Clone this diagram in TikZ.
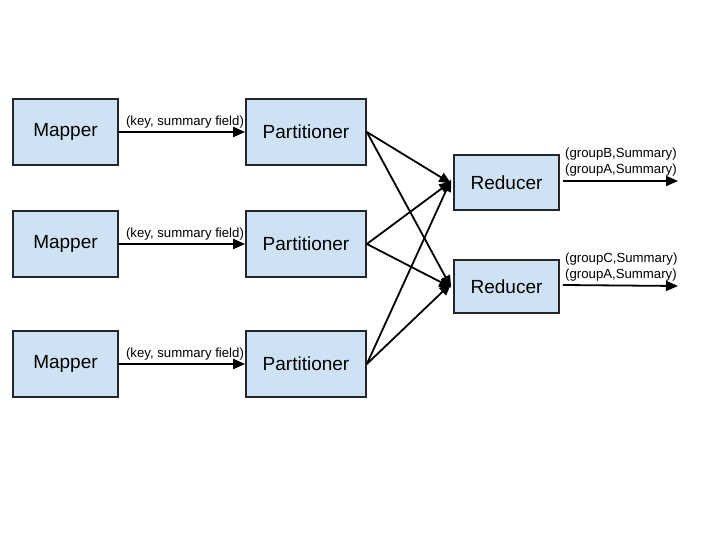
\documentclass[tikz,border=0pt]{standalone}
\usepackage{fontspec}
\setmainfont{Liberation Sans}
\usetikzlibrary{arrows.meta}
\definecolor{boxfill}{HTML}{CFE2F3}
\begin{document}
\begin{tikzpicture}[x=1pt,y=-1pt,
  box/.style={draw=black!85,line width=1.7pt,fill=boxfill,inner sep=0pt,font=\fontsize{19}{22}\selectfont},
  conn/.style={line width=1.8pt,-{Triangle[length=12pt,width=10pt]}},
  lbl/.style={font=\fontsize{13.2}{16}\selectfont,inner sep=0pt,align=left}]
\useasboundingbox (0,0) rectangle (720,540);
\foreach \n/\y in {1/132,2/244,3/364}{
  \node[box,minimum width=105pt,minimum height=66pt] (m\n) at (65.5,\y) {Mapper};
  \node[box,minimum width=120pt,minimum height=66pt] (p\n) at (306,\y) {Partitioner};
  \draw[conn] (m\n.east) -- node[lbl,above=2.5pt,pos=0.5,xshift=3pt]{(key, summary field)} (p\n.west);
}
\node[box,minimum width=105pt,minimum height=55pt] (r1) at (506.5,182.5) {Reducer};
\node[box,minimum width=105pt,minimum height=53pt] (r2) at (506.5,286.5) {Reducer};
\draw[conn] (p1.east) -- ([xshift=-2pt,yshift=-1pt]r1.west);
\draw[conn] (p1.east) -- ([xshift=-2pt,yshift=-1pt]r2.west);
\draw[conn] (p2.east) -- ([xshift=-2pt,yshift=1pt]r1.west);
\draw[conn] (p2.east) -- ([xshift=-2pt,yshift=-1pt]r2.west);
\draw[conn] (p3.east) -- ([xshift=-2pt,yshift=3pt]r1.west);
\draw[conn] (p3.east) -- ([xshift=-2pt,yshift=3pt]r2.west);
\coordinate (o1) at (678,181);
\coordinate (o2) at (678,286);
\draw[conn] ([xshift=3pt,yshift=1.5pt]r1.east) -- (o1);
\draw[conn] ([xshift=3pt,yshift=1.5pt]r2.east) -- (o2);
\node[lbl,anchor=south west] (l1) at (565,176) {(groupB,Summary)\\(groupA,Summary)};
\node[lbl,anchor=south west] (l2) at (565,281) {(groupC,Summary)\\(groupA,Summary)};
\end{tikzpicture}
\end{document}
